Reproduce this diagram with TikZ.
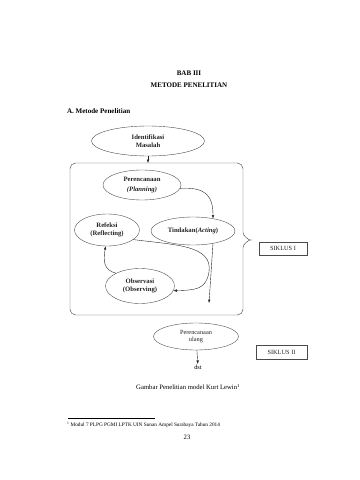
\documentclass[tikz,border=0pt]{standalone}
\usepackage{fontspec}
\setmainfont{Liberation Serif}
\usepackage{xcolor}
\usepackage{tikz}
\usetikzlibrary{arrows.meta,shapes.geometric}
\definecolor{lewinink}{HTML}{222222}
\definecolor{lewinline}{HTML}{4A4A4A}
\tikzset{
  phase/.style={ellipse, draw=lewinline, line width=0.55pt, align=center,
    inner sep=1pt, font=\fontsize{9.5}{11}\selectfont\bfseries, text=lewinink},
  plainphase/.style={ellipse, draw=lewinline, line width=0.55pt, align=center,
    inner sep=1pt, font=\fontsize{9}{10.5}\selectfont, text=lewinink},
  cyclebox/.style={rectangle, draw=lewinline, line width=0.55pt, align=center,
    inner sep=1pt, font=\fontsize{9}{10}\selectfont, text=lewinink},
  frame/.style={draw=lewinline, line width=0.65pt},
  flow/.style={-{Latex[length=1.7mm,width=1.3mm]}, line width=0.55pt, draw=lewinink},
}

\begin{document}
\begin{tikzpicture}[x=0.05cm, y=-0.05cm]
\useasboundingbox (0,0) rectangle (360,480);
% ---------- heading ----------
\node[font=\fontsize{10}{12}\selectfont\bfseries] (bab) at (189,73) {BAB III};
\node[font=\fontsize{10}{12}\selectfont\bfseries] (judul) at (189,85) {METODE PENELITIAN};
\node[font=\fontsize{10}{12}\selectfont\bfseries, anchor=west, inner sep=0pt] (sub) at (67,111) {A. Metode Penelitian};

% ---------- cycle ----------
\node[phase, minimum width=5.65cm, minimum height=1.5cm] (identifikasi) at (148,141) {Identifikasi\\Masalah};
\coordinate (boxtop) at (148,163);
\draw[flow] (identifikasi) -- (boxtop);

% bracket round the first cycle
\draw[frame, rounded corners=8pt] (boxtop) -- (243,163) -- (243,227)
  .. controls (243,236) and (249,240) .. (256,240)
  .. controls (249,240) and (243,244) .. (243,253)
  -- (243,315) -- (70,315) -- (70,163) -- (boxtop);

\node[phase, minimum width=3.9cm, minimum height=1.5cm] (perencanaan) at (142,185) {Perencanaan\\[4pt]\textit{(Planning)}};
\node[phase, minimum width=4.2cm, minimum height=1.4cm] (tindakan) at (193,231) {Tindakan(\textit{Acting})};
\node[phase, minimum width=3.25cm, minimum height=1.6cm] (refeksi) at (107,230) {Refeksi\\(Reflecting)};
\node[phase, minimum width=3.45cm, minimum height=1.75cm] (observasi) at (140,286) {Observasi\\(Observing)};
\coordinate (siklusend) at (209,303);

\draw[flow] (perencanaan.-5) .. controls (205,187) and (213,195) .. (tindakan.32);
\draw[flow] (tindakan.-32) -- (siklusend);
\draw[flow] (refeksi.-20) .. controls (175,245) and (213,245) .. (209,272)
  .. controls (206,290) and (195,290) .. (observasi.-8);
\draw[flow] (observasi.152) .. controls (104,270) and (103,262) .. (refeksi.265);

% ---------- next cycle ----------
\node[plainphase, minimum width=4.25cm, minimum height=1.35cm] (ulang) at (196,336.5) {Perencanaan\\ulang};
\node[font=\fontsize{9}{10}\selectfont, inner sep=1pt] (dst) at (198,367) {dst};
\draw[flow] (ulang) -- (dst);

\node[cyclebox, minimum width=2.4cm, minimum height=0.65cm] (siklus1) at (283,248.5) {SIKLUS I};
\node[cyclebox, minimum width=2.55cm, minimum height=0.7cm] (siklus2) at (281.5,352) {SIKLUS II};

% ---------- caption and footnote ----------
\node[font=\fontsize{9.5}{11}\selectfont] (caption) at (188,387) {Gambar Penelitian model Kurt Lewin\textsuperscript{1}};
\draw[line width=0.4pt] (68,418) -- (155,418);
\node[font=\fontsize{7.5}{8.5}\selectfont, anchor=west, inner sep=0pt] (catatan) at (67,425) {\textsuperscript{1} Modul 7 PLPG PGMI LPTK UIN Sunan Ampel Surabaya Tahun 2014};
\node[font=\fontsize{9.5}{11}\selectfont] (halaman) at (187,437) {23};
\end{tikzpicture}
\end{document}
